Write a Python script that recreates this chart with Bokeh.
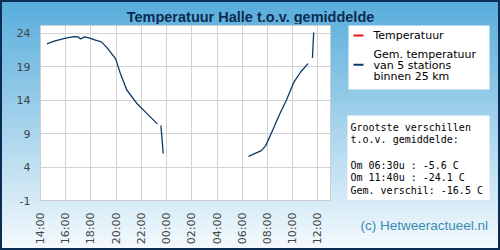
import numpy as np
import pandas as pd
from bokeh.plotting import figure
from bokeh.layouts import column, row
from bokeh.models import FixedTicker, DatetimeTickFormatter, Range1d, ColumnDataSource
from bokeh.core.properties import value
from bokeh.embed import file_html
from bokeh.resources import INLINE

# ---- data ----
times = ["14:30", "15:05", "16:00", "16:40", "16:58", "17:10", "17:30", "17:50",
         "18:22", "18:50", "19:17", "19:57", "20:21", "20:50", "21:40", "22:28",
         "23:16", "23:25", "23:33", "23:44", "03:00", "06:30", "07:31", "07:52",
         "08:31", "08:55", "09:31", "10:06", "10:38", "11:13", "11:25", "11:34",
         "11:40"]
gem_temp = [22.4, 22.8, 23.25, 23.5, 23.45, 23.15, 23.45, 23.3,
            22.95, 22.7, 21.8, 20.2, 17.9, 15.55, 13.45, 11.95,
            10.45, np.nan, 10.2, 6.0, np.nan, 5.6, 6.45, 7.2,
            9.95, 11.7, 14.05, 16.7, 18.2, 19.45, np.nan, 20.3,
            24.1]
tick_labels = ["14:00", "16:00", "18:00", "20:00", "22:00", "00:00",
               "02:00", "04:00", "06:00", "08:00", "10:00", "12:00"]
y_ticks = [-1, 4, 9, 14, 19, 24]
x_start, x_end = "14:00", "13:00"

legend_first = "Temperatuur"
legend_second = ["Gem. temperatuur", "van 5 stations", "binnen 25 km"]
info_lines = ["Grootste verschillen", "t.o.v. gemiddelde:", "",
              "Om 06:30u : -5.6 C", "Om 11:40u : -24.1 C", "Gem. verschil: -16.5 C"]
title_text = "Temperatuur Halle t.o.v. gemiddelde"
credit_text = "(c) Hetweeractueel.nl"

NAVY = "#0b3a68"
base = pd.Timestamp("2024-05-01")


def to_dt(s):
    h, m = map(int, s.split(":"))
    d = base + pd.Timedelta(hours=h, minutes=m)
    if h < 14:
        d += pd.Timedelta(days=1)
    return d


def clear(fig):
    fig.border_fill_alpha = 0
    fig.background_fill_alpha = 0
    fig.outline_line_color = None
    fig.grid.visible = False


# ---------- title strip (canvas px coordinates 0..500 x 0..24) ----------
TH = 24
pt = figure(width=500, height=TH, output_backend="svg", toolbar_location=None,
            x_range=Range1d(0, 500), y_range=Range1d(TH, 0),
            x_axis_location=None, y_axis_location=None,
            min_border=0, min_border_left=0, min_border_right=0,
            min_border_top=0, min_border_bottom=0)
clear(pt)
pt.frame_align = False
pt.text(x=[250], y=[16.5], text=[title_text], text_align="center",
        text_baseline="alphabetic", text_font=value("Liberation Sans"),
        text_font_style="bold", text_font_size=value("14.5px"), text_color="#0c2b52")

# ---------- main chart ----------
MW, MH = 331, 250 - TH
src = ColumnDataSource(dict(t=[to_dt(s) for s in times], v=gem_temp))
p = figure(width=MW, height=MH, output_backend="svg", toolbar_location=None,
           x_axis_type="datetime",
           x_range=Range1d(to_dt(x_start), to_dt(x_end)),
           y_range=Range1d(-1, 25.15),
           min_border_left=40, min_border_right=1,
           min_border_top=1, min_border_bottom=50)
p.frame_align = False
p.border_fill_alpha = 0
p.background_fill_color = "white"
p.outline_line_color = "#cfcfcf"

tick_ms = [to_dt(s).value // 10**6 for s in tick_labels]
p.xaxis.ticker = FixedTicker(ticks=tick_ms)
p.xaxis.formatter = DatetimeTickFormatter(hours="%H:%M", hourmin="%H:%M", days="%H:%M",
                                          minutes="%H:%M", minsec="%H:%M")
p.xaxis.major_label_orientation = np.pi / 2
p.yaxis.ticker = FixedTicker(ticks=y_ticks)
p.yaxis.major_label_overrides = {t: str(t) for t in y_ticks}

for ax in (p.xaxis, p.yaxis):
    ax.axis_line_color = None
    ax.major_tick_line_color = None
    ax.minor_tick_line_color = None
    ax.major_tick_in = 0
    ax.major_tick_out = 0
    ax.minor_tick_in = 0
    ax.minor_tick_out = 0
    ax.major_label_text_font = "DejaVu Sans"
    ax.major_label_text_font_size = "11px"
    ax.major_label_text_color = "#444444"
p.xaxis.major_label_standoff = 12
p.yaxis.major_label_standoff = 10

p.xgrid.grid_line_color = "#d2d2d2"
p.ygrid.grid_line_color = "#d2d2d2"

p.line(x="t", y="v", source=src, line_color=NAVY, line_width=1.3)

# ---------- side panel (canvas px coordinates 331..500 x 24..250) ----------
SW = 500 - MW
ps = figure(width=SW, height=MH, output_backend="svg", toolbar_location=None,
            x_range=Range1d(MW, 500), y_range=Range1d(250, TH),
            x_axis_location=None, y_axis_location=None,
            min_border=0, min_border_left=0, min_border_right=0,
            min_border_top=0, min_border_bottom=0)
clear(ps)
ps.frame_align = False

# legend box
ps.quad(left=[348], right=[489], top=[25], bottom=[89], fill_color="white", line_color=None)
ps.quad(left=[353], right=[363], top=[34], bottom=[36], fill_color="#ee1111", line_color=None)
ps.quad(left=[353], right=[363], top=[63.3], bottom=[65.3], fill_color=NAVY, line_color=None)
ps.text(x=[373], y=[35], text=[legend_first], text_baseline="middle",
        text_font=value("DejaVu Sans"), text_font_size=value("11px"), text_color="black")
ps.text(x=[373] * 3, y=[54.3, 65.0, 75.7], text=legend_second, text_baseline="middle",
        text_font=value("DejaVu Sans"), text_font_size=value("11px"), text_color="black")

# info box
ps.quad(left=[347], right=[489], top=[115], bottom=[199.5], fill_color="white", line_color=None)
iy = [126.7 + i * 12.6 for i in range(len(info_lines))]
ps.text(x=[350] * len(info_lines), y=iy, text=info_lines, text_baseline="middle",
        text_font=value("DejaVu Sans Mono"), text_font_size=value("10px"), text_color="black")

# credit
ps.text(x=[360], y=[225], text=[credit_text], text_baseline="middle",
        text_font=value("Liberation Sans"), text_font_size=value("13.5px"), text_color="#3a8bb3")

layout = column(pt, row(p, ps, spacing=0), spacing=0)
layout.styles = {"background": "linear-gradient(to bottom, #56acdb 0%, #f5fafd 100%)",
                 "box-shadow": "inset 0 0 0 2px #0b2c55"}

open("out.html", "w").write(file_html(layout, INLINE))
